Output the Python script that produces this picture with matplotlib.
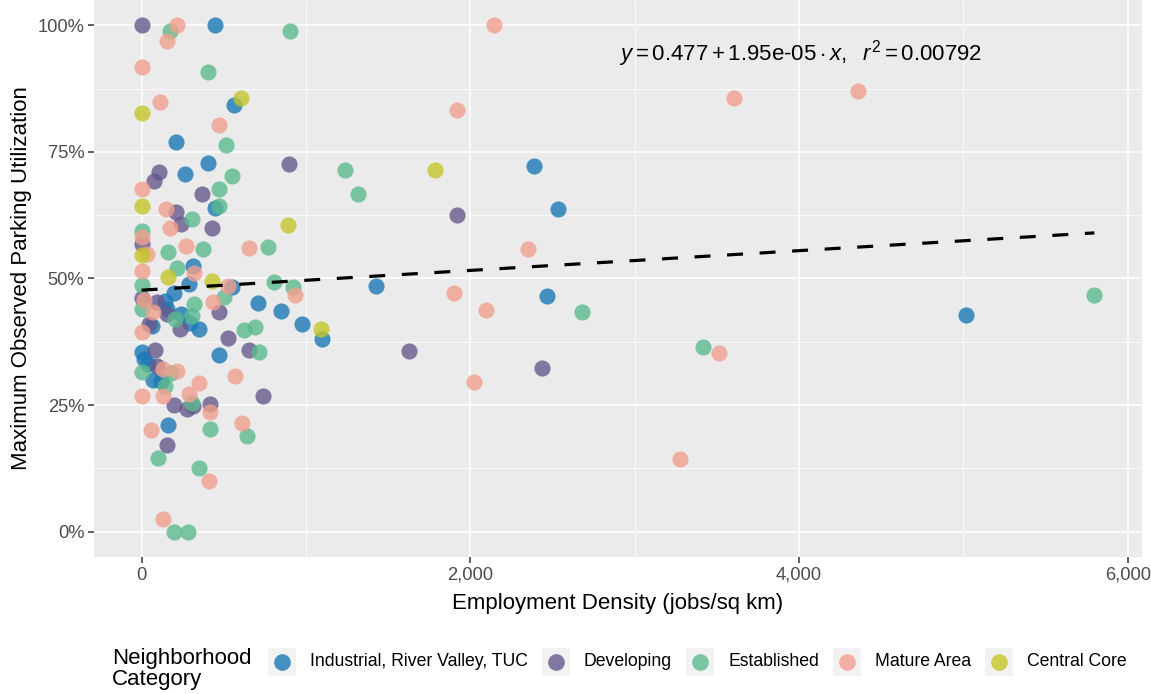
import numpy as np
import matplotlib
matplotlib.use("Agg")
import matplotlib.pyplot as plt
from matplotlib.patches import Rectangle
from matplotlib.lines import Line2D
from matplotlib.ticker import FixedLocator, FuncFormatter

plt.rcParams['font.family'] = ['Liberation Sans', 'DejaVu Sans']
plt.rcParams['mathtext.fontset'] = 'custom'
plt.rcParams['mathtext.rm'] = 'Liberation Sans'
plt.rcParams['mathtext.it'] = 'Liberation Sans:italic'

# categories, in legend order
categories = ["Industrial, River Valley, TUC", "Developing", "Established",
              "Mature Area", "Central Core"]
colores = ["#1A78B5", "#65598D", "#5BB98D", "#F1A08D", "#C5C529"]

# employment density (jobs/sq km) and max utilization
ind_x = [447, 559, 208, 403, 261, 447, 315, 291, 549, 143, 194, 711, 849, 153,
         240, 295, 350, 62, 472, 0, 17, 41, 72, 119, 163, 1426, 2388, 2533,
         2465, 978, 1099, 5016]
ind_y = [1.00, 0.842, 0.770, 0.729, 0.706, 0.639, 0.525, 0.489, 0.484, 0.456,
         0.471, 0.451, 0.436, 0.440, 0.430, 0.412, 0.400, 0.407, 0.349, 0.355,
         0.341, 0.331, 0.300, 0.298, 0.210, 0.485, 0.722, 0.637, 0.465, 0.411,
         0.381, 0.428]

dev_x = [0, 894, 108, 78, 370, 208, 238, 427, 0, 0, 92, 153, 473, 234, 42, 528,
         654, 82, 92, 198, 275, 315, 413, 741, 153, 1919, 1626, 2434]
dev_y = [1.00, 0.727, 0.710, 0.692, 0.667, 0.631, 0.607, 0.599, 0.568, 0.461,
         0.454, 0.430, 0.434, 0.400, 0.410, 0.382, 0.359, 0.359, 0.327, 0.250,
         0.242, 0.248, 0.253, 0.268, 0.172, 0.626, 0.356, 0.324]

est_x = [173, 904, 403, 514, 549, 472, 472, 305, 0, 376, 163, 766, 214, 0, 806,
         923, 321, 502, 0, 305, 204, 624, 691, 715, 0, 180, 143, 305, 417, 644,
         102, 346, 194, 281, 1236, 1317, 2677, 3416, 5797]
est_y = [0.989, 0.989, 0.907, 0.764, 0.702, 0.676, 0.644, 0.617, 0.593, 0.559,
         0.553, 0.562, 0.520, 0.488, 0.494, 0.483, 0.450, 0.463, 0.440, 0.426,
         0.420, 0.399, 0.405, 0.354, 0.315, 0.313, 0.288, 0.255, 0.202, 0.188,
         0.146, 0.126, 0.0, 0.0, 0.714, 0.667, 0.434, 0.365, 0.467]

mat_x = [214, 153, 0, 113, 472, 0, 147, 173, 0, 269, 654, 35, 0, 321, 528, 934,
         15, 433, 72, 0, 133, 214, 569, 350, 0, 133, 289, 417, 56, 610, 411, 129,
         2145, 1919, 2349, 1899, 2097, 2024, 3602, 4359, 3515, 3278]
mat_y = [1.00, 0.970, 0.917, 0.848, 0.804, 0.676, 0.637, 0.600, 0.582, 0.565,
         0.560, 0.549, 0.515, 0.510, 0.486, 0.467, 0.458, 0.454, 0.433, 0.395,
         0.321, 0.318, 0.308, 0.294, 0.268, 0.267, 0.271, 0.236, 0.201, 0.215,
         0.101, 0.025, 1.00, 0.833, 0.558, 0.472, 0.437, 0.296, 0.857, 0.870,
         0.352, 0.144]

cen_x = [604, 0, 0, 890, 0, 163, 431, 1786, 1091]
cen_y = [0.857, 0.826, 0.644, 0.605, 0.547, 0.503, 0.495, 0.714, 0.401]

xs = [ind_x, dev_x, est_x, mat_x, cen_x]
ys = [ind_y, dev_y, est_y, mat_y, cen_y]

# fitted line shown on the chart
intercepto = 0.477
pendiente = 1.95e-05
r2 = 0.00792

W, H = 1151, 694
fig = plt.figure(figsize=(W / 100, H / 100), dpi=100)
ax = fig.add_axes([94 / W, 1 - 557 / H, 1048 / W, 557 / H])
ax.set_facecolor("#EBEBEB")
for s in ax.spines.values():
    s.set_visible(False)

for xv, yv, c in zip(xs, ys, colores):
    ax.scatter(xv, yv, s=135, color=c, alpha=0.8, linewidths=0, zorder=3)

todos_x = np.concatenate([np.array(v, float) for v in xs])
xl = np.array([todos_x.min(), todos_x.max()])
ax.plot(xl, intercepto + pendiente * xl, color="black", lw=2.3,
        dashes=(5, 5.2), zorder=4)

rango = xl[1] - xl[0]
ax.set_xlim(xl[0] - 0.05 * rango, xl[1] + 0.05 * rango)
ax.set_ylim(-0.05, 1.05)

ax.xaxis.set_major_locator(FixedLocator([0, 2000, 4000, 6000]))
ax.xaxis.set_minor_locator(FixedLocator([1000, 3000, 5000]))
ax.yaxis.set_major_locator(FixedLocator([0, 0.25, 0.5, 0.75, 1.0]))
ax.yaxis.set_minor_locator(FixedLocator([0.125, 0.375, 0.625, 0.875]))
ax.xaxis.set_major_formatter(FuncFormatter(lambda v, p: f"{v:,.0f}"))
ax.yaxis.set_major_formatter(FuncFormatter(lambda v, p: f"{v * 100:.0f}%"))

ax.grid(which="major", color="white", lw=1.1)
ax.grid(which="minor", color="white", lw=0.55)
ax.set_axisbelow(True)
ax.tick_params(which="major", length=4, width=1.1, color="#333333",
               labelcolor="#4D4D4D", labelsize=13.2, pad=3)
ax.tick_params(which="minor", length=0)

ax.set_xlabel("Employment Density (jobs/sq km)", fontsize=16, labelpad=7)
ax.set_ylabel("Maximum Observed Parking Utilization", fontsize=16, labelpad=4)

eq = (r"$y = %.3f + 1.95\text{e-05} \cdot x,\ \ r^2 = %.5f$"
      % (intercepto, r2))
ax.text(4008, 0.945, eq, fontsize=16, ha="center", va="center", zorder=5)

# legend along the bottom
fig.text(112 / W, 1 - 669 / H, "Neighborhood\nCategory", fontsize=16,
         ha="left", va="center", linespacing=1.05)
rend = fig.canvas.get_renderer()
xpx = 268
yc = 662
for cat, c in zip(categories, colores):
    fig.patches.append(Rectangle((xpx / W, 1 - (yc + 14) / H), 28 / W, 28 / H,
                                 transform=fig.transFigure,
                                 facecolor="#F2F2F2", edgecolor="none"))
    fig.lines.append(Line2D([(xpx + 14) / W], [1 - yc / H], marker="o",
                            markersize=12, color=c, alpha=0.8, lw=0,
                            markeredgewidth=0, transform=fig.transFigure))
    t = fig.text((xpx + 42) / W, 1 - yc / H, cat, fontsize=12.7,
                 ha="left", va="center")
    ancho = t.get_window_extent(rend).width
    xpx = xpx + 42 + ancho + 14

fig.savefig("out.png", dpi=100)
